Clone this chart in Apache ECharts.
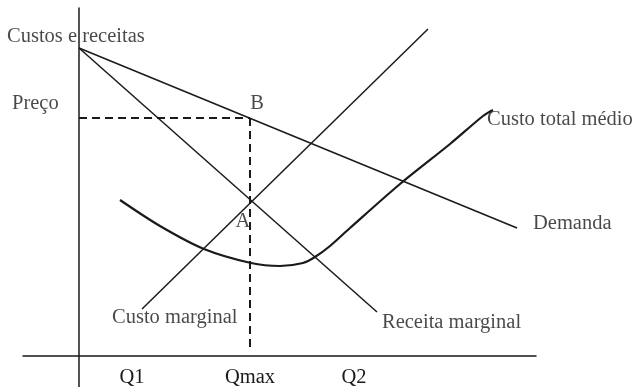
<!DOCTYPE html>
<html>
<head>
<meta charset="utf-8">
<script src="https://cdn.jsdelivr.net/npm/echarts@6/dist/echarts.min.js"></script>
<style>
  html, body { margin: 0; padding: 0; background: #fff; }
  #chart { width: 638px; height: 387px; }
</style>
</head>
<body>
<div id="chart"></div>
<script>
// Monopoly profit-maximisation diagram (quantity on x, costs/revenues on y)
const demand = [[0, 308], [438, 128]];
const marginalRevenue = [[0, 308], [298, 44]];
const marginalCost = [[63, 47], [349, 327]];
const avgTotalCost = [
  [41, 156], [81, 130], [125, 107], [172, 93], [201, 90], [224, 93],
  [236, 99], [251, 110], [271, 128], [321, 172], [371, 212], [404, 240], [414, 246]
];
const qMax = 171;
const price = 238;
const qMaxFloor = 9;

// quantity tick labels
const qTickValues = [53, 171, 275];
const qTickLabels = ['Q1', 'Qmax', 'Q2'];

// text annotations: [x, y, text, align]
const annotations = [
  [-72, 319, 'Custos e receitas', 'left'],
  [-67, 252, 'Preço', 'left'],
  [178, 252, 'B', 'center'],
  [164, 134, 'A', 'center'],
  [408, 236, 'Custo total médio', 'left'],
  [454, 132, 'Demanda', 'left'],
  [33, 38, 'Custo marginal', 'left'],
  [303, 33, 'Receita marginal', 'left']
];

const INK = '#1a1a1a';
const FONT = 'Liberation Serif';
const FS = 20.5;

const chart = echarts.init(document.getElementById('chart'), null, { renderer: 'canvas' });

const solid = (data, width) => ({
  type: 'line',
  data: data,
  showSymbol: false,
  symbol: 'none',
  silent: true,
  lineStyle: { color: INK, width: width },
  animation: false
});

chart.setOption({
  animation: false,
  backgroundColor: '#fff',
  grid: {
    left: 23, right: 102, top: 8, bottom: 0,
    containLabel: false,
    outerBoundsMode: 'none'
  },
  xAxis: {
    type: 'value',
    min: -56,
    max: 457,
    axisLine: { show: true, onZero: true, lineStyle: { color: INK, width: 1.5 } },
    axisTick: { show: false },
    splitLine: { show: false },
    axisLabel: {
      show: true,
      customValues: qTickValues,
      formatter: v => qTickLabels[qTickValues.indexOf(v)] || '',
      fontFamily: FONT,
      fontSize: FS,
      color: INK,
      margin: -20
    }
  },
  yAxis: {
    type: 'value',
    min: -31,
    max: 348,
    axisLine: { show: true, onZero: true, lineStyle: { color: INK, width: 1.5 } },
    axisTick: { show: false },
    splitLine: { show: false },
    axisLabel: { show: false }
  },
  series: [
    solid(demand, 1.5),
    solid(marginalRevenue, 1.5),
    solid(marginalCost, 1.5),
    Object.assign(solid(avgTotalCost, 2.2), { smooth: 0.3 }),
    {
      type: 'line',
      data: [[0, price], [qMax, price]],
      symbol: 'none',
      silent: true,
      lineStyle: { color: INK, width: 2, type: [8, 5] }
    },
    {
      type: 'line',
      data: [[qMax, price], [qMax, qMaxFloor]],
      symbol: 'none',
      silent: true,
      lineStyle: { color: INK, width: 2, type: [8, 5] }
    },
    {
      type: 'scatter',
      clip: false,
      silent: true,
      symbolSize: 0,
      data: annotations.map(a => ({
        value: [a[0], a[1]],
        label: {
          show: true,
          formatter: a[2],
          position: a[3] === 'left' ? 'right' : 'inside',
          distance: 0,
          fontFamily: FONT,
          fontSize: FS,
          color: INK
        }
      }))
    }
  ]
});
</script>
</body>
</html>
